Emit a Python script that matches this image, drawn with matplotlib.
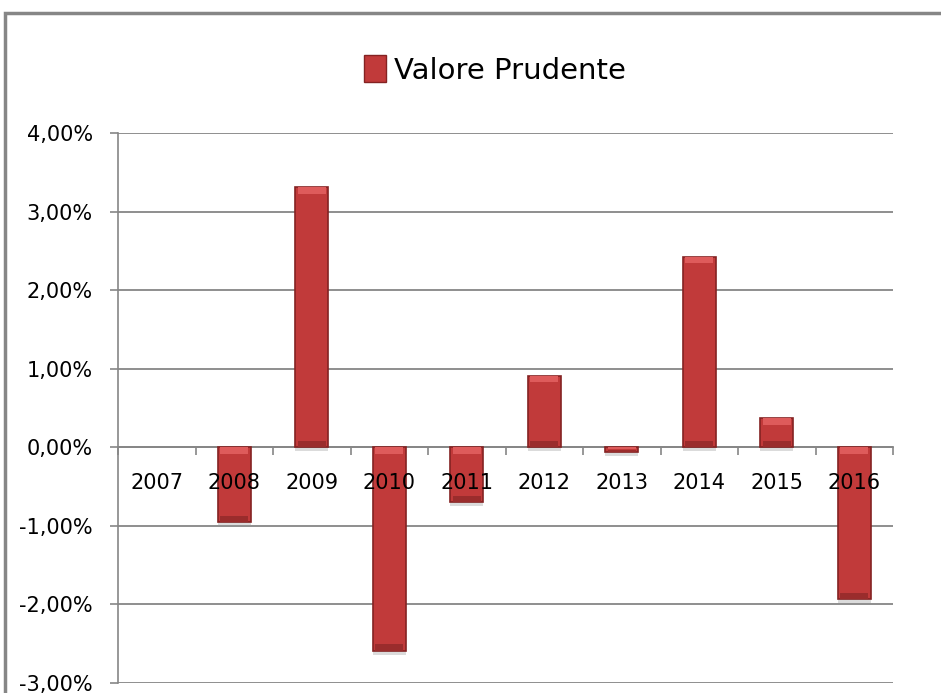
import matplotlib
matplotlib.use("Agg")
from matplotlib import pyplot as plt
from matplotlib.patches import Rectangle
from matplotlib.ticker import FuncFormatter, FixedLocator
import matplotlib.patheffects as pe
import numpy as np

# data (percent)
years = ["2007", "2008", "2009", "2010", "2011", "2012", "2013", "2014", "2015", "2016"]
valore_prudente = [0.00, -0.95, 3.31, -2.59, -0.70, 0.91, -0.06, 2.42, 0.37, -1.93]
y_ticks = [-3, -2, -1, 0, 1, 2, 3, 4]

GRID = "#868686"
BAR = "#C13A3A"
BAR_EDGE = "#842222"
BAR_LIGHT = "#DE5B5B"
BAR_DARK = "#9A2C2C"

fig = plt.figure(figsize=(9.41, 6.93), dpi=100)
ax = fig.add_axes([118 / 941, 10 / 693, (893 - 118) / 941, (683 - 133) / 693])

x = np.arange(len(years))
vals = np.array(valore_prudente)
width = 0.42
shadow = [pe.SimplePatchShadow(offset=(0, -3), shadow_rgbFace="#999999", alpha=0.35), pe.Normal()]
lw = [0 if v == 0 else 1.2 for v in vals]
ax.bar(x, vals, width=width, color=BAR, edgecolor=BAR_EDGE, linewidth=lw, zorder=3,
       path_effects=shadow)

# simple bevel: lighter band at the top, darker band at the bottom of each bar
band = 0.08
top = np.maximum(vals, 0)
low = np.minimum(vals, 0)
h = np.minimum(np.abs(vals) / 3, band)
ax.bar(x, h, bottom=top - h, width=width * 0.86, color=BAR_LIGHT, linewidth=0, zorder=4)
ax.bar(x, h, bottom=low, width=width * 0.86, color=BAR_DARK, linewidth=0, zorder=4)

ax.set_xlim(-0.5, len(years) - 0.5)
ax.set_ylim(-3, 4)

# gridlines / axes in Excel style
ax.set_axisbelow(True)
ax.yaxis.set_major_locator(FixedLocator(y_ticks))
ax.yaxis.set_major_formatter(FuncFormatter(lambda v, _: f"{v:.2f}%".replace(".", ",")))
ax.grid(axis="y", color=GRID, linewidth=1.3)
ax.tick_params(axis="y", length=6, color=GRID, width=1.2, pad=12, labelsize=15)

for side in ["top", "right"]:
    ax.spines[side].set_visible(False)
ax.spines["left"].set_color(GRID)
ax.spines["left"].set_linewidth(1.2)
ax.spines["bottom"].set_position(("data", 0))
ax.spines["bottom"].set_color(GRID)
ax.spines["bottom"].set_linewidth(1.3)

# category labels drawn over the bars, as in the reference
ax.set_xticks(x)
ax.set_xticklabels([])
ax.set_xticks(np.arange(len(years) + 1) - 0.5, minor=True)
ax.tick_params(axis="x", which="major", length=0)
ax.tick_params(axis="x", which="minor", length=6, color=GRID, width=1.2)
for i, year in enumerate(years):
    ax.annotate(year, xy=(i, 0), xytext=(0, -26), textcoords="offset points",
                ha="center", va="center", fontsize=15, zorder=6)

# legend at the top, like a title
handle = Rectangle((0, 0), 1, 1, facecolor=BAR, edgecolor=BAR_EDGE, linewidth=1.0)
fig.legend([handle], ["Valore Prudente"], loc="center", bbox_to_anchor=(495 / 941, 1 - 70 / 693),
           frameon=False, fontsize=21, handlelength=0.75, handleheight=1.0, handletextpad=0.3)

# outer chart border (cropped on the right and bottom)
fig.patches.append(Rectangle((5 / 941, -0.1), 1.2, 1 - 13 / 693 + 0.1, transform=fig.transFigure,
                             fill=False, edgecolor=GRID, linewidth=2.5, zorder=10))

plt.savefig("out.png", dpi=100)
plt.close()
